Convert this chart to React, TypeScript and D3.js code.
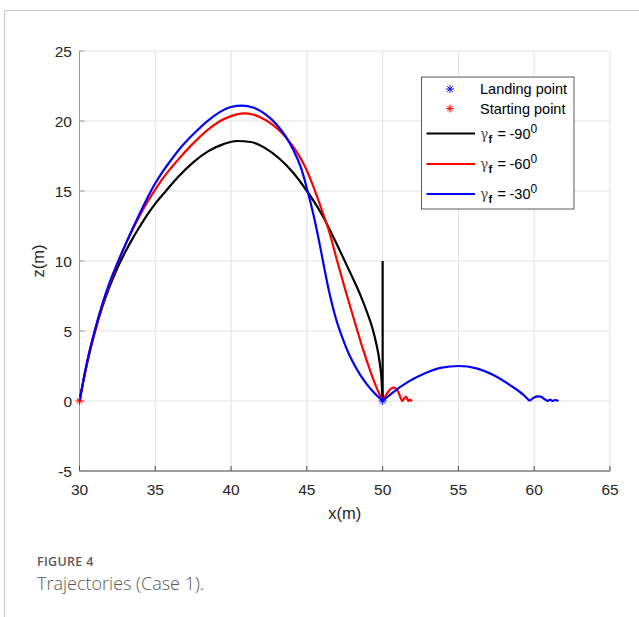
import React from 'react';
import * as d3 from 'd3';

// ---------- data ----------
const xTicks = [30, 35, 40, 45, 50, 55, 60, 65];
const zTicks = [-5, 0, 5, 10, 15, 20, 25];

// gamma_f = -90 deg (black)
const blackFlight: [number, number][] = [
  [30, 0], [30.25, 1.4], [30.5, 2.7], [31, 4.9], [31.5, 6.7], [32, 8.2], [32.5, 9.5],
  [33, 10.6], [33.5, 11.6], [34, 12.5], [34.5, 13.35], [35, 14.1], [35.7, 15.0],
  [36.5, 16.0], [37.5, 17.05], [38.5, 17.85], [39.5, 18.35], [40.4, 18.57], [41.3, 18.5],
  [42.2, 18.1], [43.2, 17.3], [44.1, 16.3], [45, 15.0], [45.5, 14.2], [46, 13.3],
  [46.5, 12.25], [47, 11.15], [47.5, 10.0], [48, 8.85], [48.5, 7.65], [49, 6.25],
  [49.3, 5.3], [49.6, 4.0], [49.8, 2.8], [49.93, 1.5], [50, 0],
];
const blackSpike: [number, number][] = [[50, 0], [50, 10]];

// gamma_f = -60 deg (red)
const redFlight: [number, number][] = [
  [30, 0], [30.25, 1.4], [30.5, 2.7], [31, 4.9], [31.5, 6.8], [32, 8.4], [32.5, 9.8],
  [33, 11.1], [33.5, 12.25], [34, 13.3], [34.5, 14.25], [35, 15.1], [35.5, 15.9],
  [36, 16.6], [36.6, 17.35], [37.5, 18.4], [38.5, 19.4], [39.2, 19.95], [40, 20.35],
  [40.8, 20.55], [41.5, 20.45], [42.3, 20.05], [43, 19.5], [43.6, 18.85], [44.3, 17.85],
  [44.9, 16.7], [45.4, 15.4], [46, 13.6], [46.5, 12.0], [47, 10.0], [47.6, 7.7],
  [48.2, 5.5], [48.7, 3.7], [49.2, 2.1], [49.6, 0.95], [50, 0],
];
const redBounce: [number, number][] = [
  [50, 0], [50.3, 0.55], [50.55, 0.88], [50.8, 0.95], [51.05, 0.6], [51.3, 0],
  [51.45, 0.25], [51.55, 0.3], [51.7, 0], [51.8, 0.08], [51.95, 0],
];

// gamma_f = -30 deg (blue)
const blueFlight: [number, number][] = [
  [30, 0], [30.25, 1.45], [30.5, 2.8], [31, 5.0], [31.5, 6.9], [32, 8.5], [32.5, 9.85],
  [33, 11.1], [33.5, 12.3], [34, 13.45], [34.5, 14.55], [35, 15.55], [35.5, 16.4],
  [36, 17.15], [36.6, 18.0], [37.5, 19.05], [38.5, 20.05], [39.2, 20.6], [40, 21.0],
  [40.7, 21.1], [41.5, 20.95], [42.3, 20.45], [43, 19.75], [43.6, 18.9], [44.1, 17.95],
  [44.6, 16.7], [45, 15.2], [45.5, 13.0], [45.9, 10.9], [46.2, 9.22], [46.5, 7.66],
  [46.9, 5.95], [47.3, 4.65], [47.6, 3.8], [48, 2.85], [48.5, 1.9], [48.9, 1.28],
  [49.3, 0.75], [49.7, 0.3], [50, 0],
];
const blueBounce: [number, number][] = [
  [50, 0], [50.6, 0.55], [51.7, 1.38], [52.8, 1.98], [53.9, 2.38], [55, 2.5], [56.2, 2.33],
  [57.3, 1.86], [58.4, 1.14], [59.3, 0.43], [59.7, 0],
];
const blueTail: [number, number][] = [
  [59.7, 0], [59.95, 0.22], [60.2, 0.33], [60.45, 0.3], [60.7, 0.12], [60.9, 0],
  [61.05, 0.1], [61.2, 0.0], [61.35, 0.07], [61.6, 0],
];

const landingPoint: [number, number] = [50, 0];
const startingPoint: [number, number] = [30, 0];

const legendLabels = ['Landing point', 'Starting point', '-90', '-60', '-30'];

// ---------- layout ----------
const W = 639;
const H = 617;
const L = 79.5, R = 610, T = 51, B = 471;

export default function App() {
  const x = d3.scaleLinear().domain([30, 65]).range([L, R]);
  const z = d3.scaleLinear().domain([-5, 25]).range([B, T]);

  const smooth = d3.line<[number, number]>()
    .x(d => x(d[0])).y(d => z(d[1]))
    .curve(d3.curveMonotoneX);
  const soft = d3.line<[number, number]>()
    .x(d => x(d[0])).y(d => z(d[1]))
    .curve(d3.curveCatmullRom.alpha(0.5));
  const straight = d3.line<[number, number]>()
    .x(d => x(d[0])).y(d => z(d[1]));

  const star = (cx: number, cy: number, color: string, r = 4) => (
    <g stroke={color} strokeWidth={1}>
      <line x1={cx - r} y1={cy} x2={cx + r} y2={cy} />
      <line x1={cx} y1={cy - r} x2={cx} y2={cy + r} />
      <line x1={cx - r * 0.7} y1={cy - r * 0.7} x2={cx + r * 0.7} y2={cy + r * 0.7} />
      <line x1={cx - r * 0.7} y1={cy + r * 0.7} x2={cx + r * 0.7} y2={cy - r * 0.7} />
    </g>
  );

  const font = 'Liberation Sans, Arial, Helvetica, sans-serif';
  const lw = 2.2;

  // legend
  const lgX = 421.5, lgY = 77, lgW = 152.5, lgH = 132;
  const rowsY = [89, 108.5, 133.5, 164, 194];
  const lineColors = ['#000000', '#ff0000', '#0000ff'];

  return (
    <svg width={W} height={H} style={{ position: 'absolute', left: 0, top: 0, background: '#fff' }}>
      {/* figure frame */}
      <line x1={4.5} y1={10.5} x2={W} y2={10.5} stroke="#c8c8c8" strokeWidth={1} />
      <line x1={4.5} y1={10.5} x2={4.5} y2={H} stroke="#c8c8c8" strokeWidth={1} />

      {/* grid */}
      <g stroke="#e3e3e3" strokeWidth={1}>
        {xTicks.map(t => (
          <line key={'gx' + t} x1={x(t)} x2={x(t)} y1={T} y2={B} />
        ))}
        {zTicks.map(t => (
          <line key={'gz' + t} x1={L} x2={R} y1={z(t)} y2={z(t)} />
        ))}
      </g>

      {/* axes */}
      <line x1={L} x2={L} y1={T} y2={B} stroke="#9a9a9a" strokeWidth={1} />
      <line x1={L} x2={R} y1={B} y2={B} stroke="#4a4a4a" strokeWidth={1} />
      <g stroke="#4a4a4a" strokeWidth={1}>
        {xTicks.map(t => (
          <line key={'tx' + t} x1={x(t)} x2={x(t)} y1={B} y2={B - 5} />
        ))}
      </g>
      <g stroke="#9a9a9a" strokeWidth={1}>
        {zTicks.map(t => (
          <line key={'tz' + t} x1={L} x2={L + 5} y1={z(t)} y2={z(t)} />
        ))}
      </g>

      {/* tick labels */}
      <g fontFamily={font} fontSize={15.5} fill="#262626">
        {xTicks.map(t => (
          <text key={'lx' + t} x={x(t)} y={495} textAnchor="middle">{t}</text>
        ))}
        {zTicks.map(t => (
          <text key={'lz' + t} x={72} y={z(t) + 5.5} textAnchor="end">{t}</text>
        ))}
      </g>

      {/* axis titles */}
      <text x={(L + R) / 2} y={519} textAnchor="middle" fontFamily={font} fontSize={16.5} fill="#262626">x(m)</text>
      <text transform={`translate(44, ${(T + B) / 2}) rotate(-90)`} textAnchor="middle" fontFamily={font} fontSize={16.5} fill="#262626">z(m)</text>

      {/* trajectories */}
      <g fill="none" strokeLinejoin="round" strokeLinecap="butt">
        <path d={smooth(blackFlight) || ''} stroke="#000" strokeWidth={lw} />
        <path d={straight(blackSpike) || ''} stroke="#000" strokeWidth={lw} />
        <path d={smooth(redFlight) || ''} stroke="#ff0000" strokeWidth={lw} />
        <path d={soft(redBounce) || ''} stroke="#ff0000" strokeWidth={lw} />
        <path d={smooth(blueFlight) || ''} stroke="#0000ff" strokeWidth={lw} />
        <path d={smooth(blueBounce) || ''} stroke="#0000ff" strokeWidth={lw} />
        <path d={soft(blueTail) || ''} stroke="#0000ff" strokeWidth={lw} />
      </g>

      {/* markers */}
      {star(x(landingPoint[0]), z(landingPoint[1]), '#0000ff')}
      {star(x(startingPoint[0]), z(startingPoint[1]), '#ff0000')}

      {/* legend */}
      <rect x={lgX} y={lgY} width={lgW} height={lgH} fill="#fff" stroke="#333" strokeWidth={0.8} />
      {star(450, rowsY[0], '#0000ff', 4)}
      {star(450, rowsY[1], '#ff0000', 4)}
      <g fontFamily={font} fontSize={14.5} fill="#000">
        <text x={480} y={rowsY[0] + 5}>{legendLabels[0]}</text>
        <text x={480} y={rowsY[1] + 5}>{legendLabels[1]}</text>
        {[2, 3, 4].map((k, i) => (
          <g key={'lg' + k}>
            <line x1={426.5} x2={475} y1={rowsY[k]} y2={rowsY[k]} stroke={lineColors[i]} strokeWidth={lw} />
            <text x={480} y={rowsY[k] + 5} fontFamily="DejaVu Serif, Liberation Serif, serif" fontSize={14} fill="#555">γ</text>
            <text x={488.5} y={rowsY[k] + 9} fontSize={11} fontWeight="bold">f</text>
            <text x={497.5} y={rowsY[k] + 5}>=</text>
            <text x={509.5} y={rowsY[k] + 5}>{legendLabels[k]}</text>
            <text x={530.5} y={rowsY[k] - 1} fontSize={12}>0</text>
          </g>
        ))}
      </g>

      {/* caption */}
      <text x={37} y={566} fontFamily="Open Sans, Noto Sans, sans-serif" fontSize={12.5} fontWeight={600} letterSpacing={0.3} fill="#5a5a5a">FIGURE 4</text>
      <text x={37} y={590} fontFamily="Open Sans, Noto Sans, sans-serif" fontSize={18} fontWeight={300} fill="#5a5a5a">Trajectories (Case 1).</text>
    </svg>
  );
}
